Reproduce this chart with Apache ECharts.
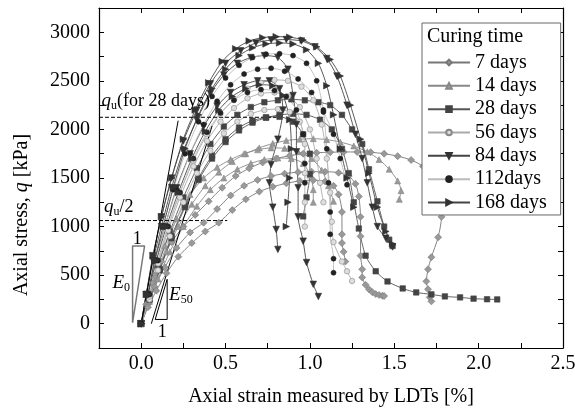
<!DOCTYPE html>
<html><head><meta charset="utf-8">
<script src="https://cdn.jsdelivr.net/npm/echarts@6/dist/echarts.min.js"></script>
<style>html,body{margin:0;padding:0;background:#fff}#c{width:575px;height:416px}</style>
</head><body><div id="c"></div>
<script>
// ---- data: [axial strain %, q kPa] ----
const legendNames = ['7 days','14 days','28 days','56 days','84 days','112days','168 days'];
const xTicks = [-0.25, 2.5, 0.25];
const yTicks = [-250, 3250, 250];

const d7a = [[0,0],[0.03,200],[0.07,420],[0.12,640],[0.18,840],[0.25,1000],[0.32,1120],[0.40,1260],[0.48,1400],[0.56,1520],[0.64,1600],[0.72,1660],[0.80,1700],[0.88,1730],[0.96,1750],[1.04,1760],[1.12,1765],[1.20,1768],[1.28,1768],[1.36,1765],[1.44,1750],[1.52,1725],[1.60,1685],[1.67,1620],[1.73,1500],[1.77,1300],[1.78,1100],[1.76,890],[1.72,685],[1.70,560],[1.69,436],[1.70,355],[1.71,272],[1.72,230]];
const d7b = [[0,0],[0.04,200],[0.08,380],[0.14,580],[0.21,780],[0.29,940],[0.37,1040],[0.45,1180],[0.53,1320],[0.61,1420],[0.69,1480],[0.77,1520],[0.85,1545],[0.93,1560],[1.01,1565],[1.09,1565],[1.17,1555],[1.23,1520],[1.27,1440],[1.29,1310],[1.30,1100],[1.30,900],[1.30,700],[1.31,560],[1.31,477],[1.33,400],[1.35,355],[1.37,325],[1.39,305],[1.41,295],[1.43,288],[1.44,285]];
const d7c = [[0,0],[0.04,170],[0.09,340],[0.15,520],[0.22,690],[0.30,830],[0.38,950],[0.46,1040],[0.54,1170],[0.62,1280],[0.70,1360],[0.78,1410],[0.86,1445],[0.94,1470],[1.02,1478],[1.09,1465],[1.14,1420],[1.17,1330],[1.19,1150],[1.19,920],[1.19,830],[1.20,740],[1.21,640]];

const d14a = [[0,0],[0.04,230],[0.09,470],[0.15,740],[0.22,1000],[0.30,1230],[0.38,1420],[0.46,1560],[0.54,1670],[0.62,1750],[0.70,1810],[0.78,1855],[0.86,1885],[0.94,1900],[1.02,1905],[1.10,1895],[1.18,1870],[1.26,1830],[1.34,1770],[1.41,1690],[1.47,1590],[1.52,1470],[1.54,1370],[1.53,1280]];
const d14b = [[0,0],[0.05,230],[0.10,460],[0.17,740],[0.25,1000],[0.33,1210],[0.41,1380],[0.49,1500],[0.57,1590],[0.65,1650],[0.73,1690],[0.81,1705],[0.89,1700],[0.96,1650],[1.00,1530],[1.02,1380],[1.02,1250]];
const d14c = [[0,0],[0.04,240],[0.08,500],[0.14,800],[0.21,1080],[0.29,1330],[0.37,1500],[0.45,1610],[0.53,1690],[0.61,1750],[0.69,1790],[0.77,1810],[0.85,1805],[0.93,1770],[1.01,1700],[1.07,1580],[1.11,1420],[1.14,1260]];

const d28a = [[0,0],[0.05,250],[0.11,550],[0.18,880],[0.26,1200],[0.34,1480],[0.42,1700],[0.50,1870],[0.58,1990],[0.66,2070],[0.74,2120],[0.82,2150],[0.90,2160],[0.98,2150],[1.06,2100],[1.13,2000],[1.19,1800],[1.23,1550],[1.26,1250],[1.29,980],[1.33,700],[1.39,540],[1.46,435],[1.55,363],[1.63,322],[1.72,302],[1.80,281],[1.89,271],[1.97,258],[2.05,252],[2.11,250]];
const d28b = [[0,0],[0.05,280],[0.10,600],[0.17,950],[0.25,1300],[0.33,1600],[0.41,1850],[0.49,2030],[0.57,2150],[0.65,2230],[0.73,2280],[0.81,2300],[0.89,2310],[0.97,2300],[1.05,2280],[1.12,2250],[1.19,2150],[1.25,2000],[1.31,1850],[1.35,1590],[1.40,1260],[1.44,1000],[1.47,865],[1.49,800]];
const d28c = [[0,0],[0.05,250],[0.11,560],[0.18,900],[0.26,1220],[0.34,1500],[0.42,1730],[0.50,1900],[0.58,2020],[0.66,2090],[0.74,2125],[0.82,2130],[0.90,2080],[0.96,1950],[1.00,1750],[1.00,1540],[0.98,1300],[0.96,1105]];

const d56a = [[0,0],[0.05,300],[0.10,650],[0.16,1000],[0.23,1350],[0.31,1680],[0.39,1950],[0.47,2160],[0.55,2310],[0.63,2420],[0.71,2480],[0.79,2510],[0.87,2500],[0.95,2440],[1.02,2300],[1.07,2050],[1.10,1700],[1.12,1350],[1.13,1050],[1.14,840],[1.19,640],[1.22,540],[1.25,440]];
const d56b = [[0,0],[0.05,250],[0.10,550],[0.17,900],[0.25,1250],[0.33,1550],[0.41,1780],[0.49,1960],[0.57,2080],[0.65,2160],[0.73,2200],[0.81,2210],[0.88,2180],[0.94,2080],[0.97,1850],[0.97,1550],[0.97,1250],[0.97,1000]];
const d56c = [[0,0],[0.05,280],[0.10,620],[0.16,960],[0.23,1300],[0.31,1620],[0.39,1880],[0.47,2080],[0.55,2220],[0.63,2320],[0.71,2370],[0.79,2380],[0.87,2340],[0.94,2230],[1.00,2000],[1.04,1700],[1.06,1450],[1.08,1250]];

const d84a = [[0,0],[0.03,300],[0.07,700],[0.12,1100],[0.18,1500],[0.25,1880],[0.33,2200],[0.41,2470],[0.50,2680],[0.59,2810],[0.68,2890],[0.77,2920],[0.86,2925],[0.95,2910],[1.03,2850],[1.10,2730],[1.16,2550],[1.22,2250],[1.27,1950],[1.31,1700],[1.34,1450],[1.37,1200],[1.40,1000],[1.45,880],[1.49,790]];
const d84b = [[0,0],[0.04,300],[0.08,650],[0.14,1000],[0.21,1400],[0.29,1750],[0.37,2030],[0.45,2240],[0.53,2380],[0.61,2460],[0.69,2500],[0.76,2500],[0.82,2420],[0.84,2200],[0.81,1900],[0.77,1640],[0.76,1450],[0.78,1200],[0.80,970],[0.81,765]];
const d84c = [[0,0],[0.03,300],[0.07,650],[0.12,1000],[0.18,1400],[0.25,1780],[0.33,2100],[0.41,2370],[0.49,2560],[0.57,2680],[0.65,2740],[0.73,2760],[0.81,2740],[0.87,2620],[0.90,2350],[0.92,2050],[0.92,1770],[0.93,1400],[0.93,1100],[0.96,850],[0.98,630],[1.02,405],[1.05,280]];

const d112a = [[0,0],[0.04,300],[0.08,650],[0.13,1000],[0.19,1380],[0.26,1750],[0.34,2080],[0.42,2340],[0.50,2530],[0.58,2660],[0.66,2740],[0.74,2775],[0.82,2780],[0.90,2760],[0.98,2680],[1.04,2500],[1.08,2200],[1.10,1800],[1.11,1450],[1.12,1150],[1.12,920],[1.14,670],[1.14,525]];
const d112b = [[0,0],[0.04,300],[0.09,650],[0.14,1000],[0.21,1380],[0.29,1750],[0.37,2050],[0.45,2290],[0.53,2460],[0.61,2570],[0.69,2620],[0.77,2630],[0.85,2600],[0.93,2520],[1.01,2380],[1.08,2180],[1.14,1950],[1.18,1700],[1.22,1430]];
const d112c = [[0,0],[0.05,300],[0.10,650],[0.16,1000],[0.23,1350],[0.31,1700],[0.39,1970],[0.47,2170],[0.55,2300],[0.63,2380],[0.71,2410],[0.79,2400],[0.86,2340],[0.92,2200],[0.96,1950],[0.97,1650],[0.97,1450]];

const d168a = [[0,0],[0.03,300],[0.07,700],[0.12,1100],[0.18,1500],[0.25,1900],[0.32,2200],[0.40,2480],[0.48,2700],[0.56,2830],[0.64,2910],[0.72,2945],[0.80,2955],[0.88,2950],[0.96,2920],[1.04,2850],[1.12,2720],[1.18,2550],[1.24,2250],[1.30,1900],[1.35,1550],[1.40,1200],[1.45,950],[1.49,820]];
const d168b = [[0,0],[0.04,300],[0.08,650],[0.13,1000],[0.19,1400],[0.26,1800],[0.34,2150],[0.42,2420],[0.50,2620],[0.58,2760],[0.66,2840],[0.74,2880],[0.82,2890],[0.90,2880],[0.98,2820],[1.05,2680],[1.10,2450],[1.14,2150],[1.18,1800],[1.22,1500],[1.26,1200]];
const d168c = [[0,0],[0.04,300],[0.09,650],[0.15,1000],[0.22,1350],[0.30,1700],[0.38,1980],[0.46,2200],[0.54,2340],[0.62,2420],[0.70,2460],[0.78,2450],[0.84,2350],[0.88,2100],[0.89,1800],[0.88,1500],[0.87,1250],[0.86,1000]];

// annotation geometry (data coordinates)
const quLine = [[-0.25,2125],[0.80,2125]];
const quHalfLine = [[-0.25,1062],[0.51,1062]];
const tangent1 = [[0,0],[0.219,2090]];
const tangent2 = [[0.06,0],[0.42,2035]];
const e0Tri = [[-0.051,10],[-0.051,800],[0.020,800],[-0.051,10]];
const e50Tri = [[0.083,44],[0.154,44],[0.154,457],[0.083,44]];
// annotation text anchors (data coordinates)
const quLabelPos = [-0.235, 2290];
const quHalfLabelPos = [-0.22, 1200];
const e0LabelPos = [-0.17, 420];
const e0OnePos = [-0.024, 870];
const e50LabelPos = [0.165, 300];
const e50OnePos = [0.125, -90];

const FONT = 'Liberation Serif';
const groups = [
  {name: legendNames[0], data: [d7a,d7b,d7c], sym:'diamond', size:7, rot:0, line:'#777', fill:'#999', border:'#777'},
  {name: legendNames[1], data: [d14a,d14b,d14c], sym:'triangle', size:6, rot:0, line:'#888', fill:'#999', border:'#888'},
  {name: legendNames[2], data: [d28a,d28b,d28c], sym:'rect', size:5.5, rot:0, line:'#555', fill:'#444', border:'#444'},
  {name: legendNames[3], data: [d56a,d56b,d56c], sym:'circle', size:5.5, rot:0, line:'#aaa', fill:'#ddd', border:'#888'},
  {name: legendNames[4], data: [d84a,d84b,d84c], sym:'triangle', size:6.5, rot:180, line:'#444', fill:'#333', border:'#333'},
  {name: legendNames[5], data: [d112a,d112b,d112c], sym:'circle', size:5, rot:0, line:'#bbb', fill:'#222', border:'#222'},
  {name: legendNames[6], data: [d168a,d168b,d168c], sym:'triangle', size:6.5, rot:-90, line:'#444', fill:'#333', border:'#333'}
];

const series = [];
groups.forEach(g => {
  g.data.forEach(d => {
    series.push({
      type:'line', name:g.name, data:d, smooth:0.25, symbol:g.sym, symbolSize:g.size, symbolRotate:g.rot,
      showAllSymbol:true, animation:false,
      lineStyle:{color:g.line, width:0.9},
      itemStyle:{color:g.fill, borderColor:g.border, borderWidth:0.6}
    });
  });
});
function lineSeries(d, color, type, width) {
  return {type:'line', data:d, symbol:'none', animation:false, silent:true,
    lineStyle:{color:color, width:width, type:type}, z:3};
}
series.push(lineSeries(quLine,'#000','dashed',1));
series.push(lineSeries(quHalfLine,'#000','dashed',1));
series.push(lineSeries(tangent1,'#000','solid',1));
series.push(lineSeries(tangent2,'#000','solid',1));
series.push(lineSeries(e0Tri,'#777','solid',1.5));
series.push(lineSeries(e50Tri,'#000','solid',1));

const axisCommon = {
  axisLine:{show:true, onZero:false, lineStyle:{color:'#000', width:1.2}},
  axisTick:{show:true, inside:true, length:5, lineStyle:{color:'#000', width:1}},
  splitLine:{show:false}
};

const chart = echarts.init(document.getElementById('c'), null, {renderer:'canvas'});
chart.setOption({
  backgroundColor:'#fff',
  animation:false,
  grid:{left:99, right:12, top:8, bottom:68, containLabel:false, outerBoundsMode:'none'},
  xAxis:[
    Object.assign({type:'value', position:'bottom', min:xTicks[0], max:xTicks[1], interval:xTicks[2],
      axisLabel:{show:true, margin:6, fontFamily:FONT, fontSize:20, color:'#000', hideOverlap:false,
        formatter: v => (Math.abs(v*2 - Math.round(v*2)) < 1e-6 && v >= 0) ? v.toFixed(1) : ''},
      name:'Axial strain measured by LDTs [%]', nameLocation:'middle', nameGap:39,
      nameTextStyle:{fontFamily:FONT, fontSize:20, color:'#000'}}, axisCommon),
    Object.assign({type:'value', position:'top', min:xTicks[0], max:xTicks[1], interval:xTicks[2],
      axisLabel:{show:false}}, axisCommon)
  ],
  yAxis:[
    Object.assign({type:'value', position:'left', min:yTicks[0], max:yTicks[1], interval:yTicks[2],
      axisLabel:{show:true, margin:9, fontFamily:FONT, fontSize:20, color:'#000',
        formatter: v => (v % 500 === 0 && v >= 0) ? String(v) : ''}}, axisCommon),
    Object.assign({type:'value', position:'right', min:yTicks[0], max:yTicks[1], interval:yTicks[2],
      axisLabel:{show:false}}, axisCommon)
  ],
  legend:{
    data: legendNames, orient:'vertical', left:422, top:23,
    padding:[28,14,1,5], itemWidth:42, itemHeight:7, itemGap:0.33,
    borderColor:'#666', borderWidth:1, backgroundColor:'#fff',
    textStyle:{fontFamily:FONT, fontSize:20, color:'#000', lineHeight:23},
    selectedMode:false, z:10
  },
  series: series
});

const P = p => chart.convertToPixel({xAxisIndex:0, yAxisIndex:0}, p);
const rich = {
  i:{fontFamily:FONT, fontStyle:'italic', fontSize:19, color:'#000', lineHeight:22},
  s:{fontFamily:FONT, fontSize:12, color:'#000', verticalAlign:'bottom', lineHeight:12},
  n:{fontFamily:FONT, fontSize:18, color:'#000', lineHeight:22},
  ti:{fontFamily:FONT, fontStyle:'italic', fontSize:20, color:'#000'},
  t:{fontFamily:FONT, fontSize:20, color:'#000'}
};
function txt(pos, text, align) {
  const p = P(pos);
  return {type:'text', x:p[0], y:p[1], z:20,
    style:{text:text, rich:rich, align:align||'left', verticalAlign:'middle', fill:'#000'}};
}
chart.setOption({
  graphic:[
    {type:'text', left:427, top:27, z:30, style:{text:'Curing time', font:'20px "Liberation Serif"', fill:'#000'}},
    {type:'text', x:22, y:215, rotation:Math.PI/2, z:20,
      style:{text:'{t|Axial stress, }{ti|q}{t| [kPa]}', rich:rich, align:'center', verticalAlign:'middle'}},
    txt(quLabelPos, '{i|q}{s|u}{n|(for 28 days)}'),
    txt(quHalfLabelPos, '{i|q}{s|u}{n|/2}'),
    txt(e0LabelPos, '{i|E}{s|0}'),
    txt(e0OnePos, '{n|1}', 'center'),
    txt(e50LabelPos, '{i|E}{s|50}'),
    txt(e50OnePos, '{n|1}', 'center')
  ]
});
</script>
</body></html>
